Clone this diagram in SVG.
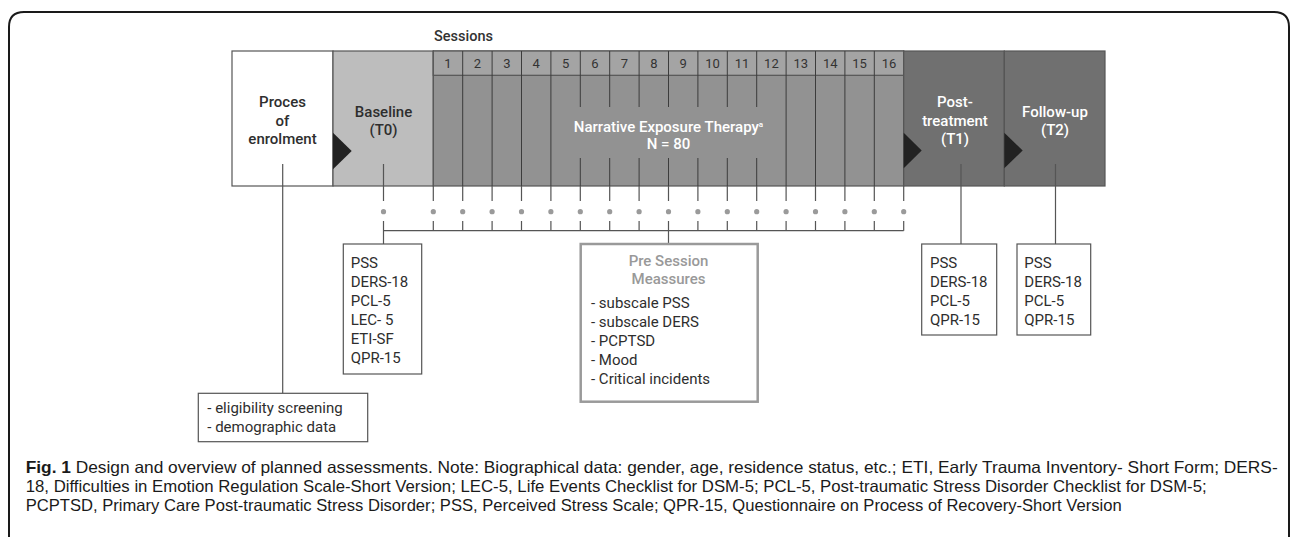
<svg xmlns="http://www.w3.org/2000/svg" width="1290" height="537" viewBox="0 0 1290 537">
<style>
.lbl{font-family:Roboto,"Liberation Sans",sans-serif;font-weight:500;font-size:15px;text-anchor:middle}
.wt{fill:#ffffff}
.dk{fill:#2e2e2e}
.num{font-family:Roboto,"Liberation Sans",sans-serif;font-size:13px;fill:#333;text-anchor:middle}
.lst{font-family:Roboto,"Liberation Sans",sans-serif;font-size:15px;fill:#2e2e2e}
.box{fill:#ffffff;stroke:#555;stroke-width:1.2}
.col{stroke:#3c3c3c;stroke-width:1}
.con{stroke:#555;stroke-width:1.2;fill:none}
.dot{fill:#9a9a9a}
.tri{fill:#222}
.cap{font-family:"Liberation Sans",Arial,sans-serif;font-size:16.5px;fill:#1a1a1a}
</style>
<path d="M9,537 V27 Q9,12 24,12 H1274 Q1289,12 1289,27 V537" fill="none" stroke="#1a1a1a" stroke-width="2"/>

<g id="enrolment">
<rect x="232" y="51" width="101" height="135" fill="#ffffff" stroke="#555" stroke-width="1.2"/>
<text class="lbl dk" x="282.5" y="107">Proces</text>
<text class="lbl dk" x="282.5" y="125.5">of</text>
<text class="lbl dk" x="282.5" y="144">enrolment</text>
</g>

<g id="baseline">
<rect x="333" y="51" width="100.3" height="135" fill="#bdbdbd" stroke="#555" stroke-width="1.2"/>
<polygon class="tri" points="333,132.7 351.7,151 333,169.3"/>
<text class="lbl dk" x="383.5" y="116.7">Baseline</text>
<text class="lbl dk" x="383.5" y="134.5">(T0)</text>
</g>

<g id="net">
<text x="434" y="41" font-family="Roboto,'Liberation Sans',sans-serif" font-weight="500" font-size="14.5" fill="#333">Sessions</text>
<rect x="433.3" y="51" width="470.4" height="135" fill="#929292" stroke="#555" stroke-width="1.2"/>
<rect x="433.3" y="51" width="470.4" height="24.3" fill="#a4a4a4" stroke="#555" stroke-width="1.2"/>
<g class="col">
<line x1="462.7" y1="51" x2="462.7" y2="186"/>
<line x1="492.1" y1="51" x2="492.1" y2="186"/>
<line x1="521.5" y1="51" x2="521.5" y2="186"/>
<line x1="550.9" y1="51" x2="550.9" y2="186"/>
<path d="M580.3,51 V107 M580.3,158 V186 M609.7,51 V107 M609.7,158 V186 M639.1,51 V107 M639.1,158 V186 M668.5,51 V107 M668.5,158 V186 M697.9,51 V107 M697.9,158 V186 M727.3,51 V107 M727.3,158 V186 M756.7,51 V107 M756.7,158 V186"/>
<line x1="786.1" y1="51" x2="786.1" y2="186"/>
<line x1="815.5" y1="51" x2="815.5" y2="186"/>
<line x1="844.9" y1="51" x2="844.9" y2="186"/>
<line x1="874.3" y1="51" x2="874.3" y2="186"/>
</g>
<text class="num" x="448" y="68.3">1</text>
<text class="num" x="477.4" y="68.3">2</text>
<text class="num" x="506.8" y="68.3">3</text>
<text class="num" x="536.2" y="68.3">4</text>
<text class="num" x="565.6" y="68.3">5</text>
<text class="num" x="595" y="68.3">6</text>
<text class="num" x="624.4" y="68.3">7</text>
<text class="num" x="653.8" y="68.3">8</text>
<text class="num" x="683.2" y="68.3">9</text>
<text class="num" x="712.6" y="68.3">10</text>
<text class="num" x="742" y="68.3">11</text>
<text class="num" x="771.4" y="68.3">12</text>
<text class="num" x="800.8" y="68.3">13</text>
<text class="num" x="830.2" y="68.3">14</text>
<text class="num" x="859.6" y="68.3">15</text>
<text class="num" x="889" y="68.3">16</text>
<text class="lbl wt" x="668.5" y="131.5">Narrative Exposure Therapy<tspan font-size="8" dy="-5">a</tspan></text>
<text class="lbl wt" x="668.5" y="149">N = 80</text>
</g>

<g id="post">
<rect x="903.7" y="51" width="100.6" height="135" fill="#707070" stroke="#555" stroke-width="1.2"/>
<polygon class="tri" points="903.7,132.7 921.7,150.5 903.7,168.3"/>
<text class="lbl wt" x="955" y="107.3">Post-</text>
<text class="lbl wt" x="955" y="126">treatment</text>
<text class="lbl wt" x="955" y="144">(T1)</text>
</g>

<g id="followup">
<rect x="1004.3" y="51" width="100.7" height="135" fill="#707070" stroke="#555" stroke-width="1.2"/>
<polygon class="tri" points="1004.3,132.7 1022.7,150.5 1004.3,168.3"/>
<text class="lbl wt" x="1055" y="116.7">Follow-up</text>
<text class="lbl wt" x="1055" y="134.5">(T2)</text>
</g>

<g id="connectors">
<path class="con" d="M282.7,164 V393.3 M383.5,164 V201 M383.5,221 V244 M383.5,230.7 H903.7 M668.5,230.7 V244 M961,164 V244 M1055.5,164 V244"/>
<path class="con" d="M433.3,186 V201 M433.3,221 V230.7 M462.7,186 V201 M462.7,221 V230.7 M492.1,186 V201 M492.1,221 V230.7 M521.5,186 V201 M521.5,221 V230.7 M550.9,186 V201 M550.9,221 V230.7 M580.3,186 V201 M580.3,221 V230.7 M609.7,186 V201 M609.7,221 V230.7 M639.1,186 V201 M639.1,221 V230.7 M668.5,186 V201 M668.5,221 V230.7 M697.9,186 V201 M697.9,221 V230.7 M727.3,186 V201 M727.3,221 V230.7 M756.7,186 V201 M756.7,221 V230.7 M786.1,186 V201 M786.1,221 V230.7 M815.5,186 V201 M815.5,221 V230.7 M844.9,186 V201 M844.9,221 V230.7 M874.3,186 V201 M874.3,221 V230.7 M903.7,186 V201 M903.7,221 V230.7"/>
<g class="dot">
<circle cx="383.5" cy="211.7" r="2.6"/>
<circle cx="433.3" cy="211.7" r="2.6"/>
<circle cx="462.7" cy="211.7" r="2.6"/>
<circle cx="492.1" cy="211.7" r="2.6"/>
<circle cx="521.5" cy="211.7" r="2.6"/>
<circle cx="550.9" cy="211.7" r="2.6"/>
<circle cx="580.3" cy="211.7" r="2.6"/>
<circle cx="609.7" cy="211.7" r="2.6"/>
<circle cx="639.1" cy="211.7" r="2.6"/>
<circle cx="668.5" cy="211.7" r="2.6"/>
<circle cx="697.9" cy="211.7" r="2.6"/>
<circle cx="727.3" cy="211.7" r="2.6"/>
<circle cx="756.7" cy="211.7" r="2.6"/>
<circle cx="786.1" cy="211.7" r="2.6"/>
<circle cx="815.5" cy="211.7" r="2.6"/>
<circle cx="844.9" cy="211.7" r="2.6"/>
<circle cx="874.3" cy="211.7" r="2.6"/>
<circle cx="903.7" cy="211.7" r="2.6"/>
</g>
</g>

<g id="box-baseline">
<rect class="box" x="343.3" y="244" width="78.4" height="130"/>
<text class="lst" x="350.7" y="268.3">PSS</text>
<text class="lst" x="350.7" y="287.2">DERS-18</text>
<text class="lst" x="350.7" y="306.1">PCL-5</text>
<text class="lst" x="350.7" y="325">LEC- 5</text>
<text class="lst" x="350.7" y="343.9">ETI-SF</text>
<text class="lst" x="350.7" y="362.8">QPR-15</text>
</g>

<g id="box-presession">
<rect x="580.7" y="244" width="177" height="157.7" fill="#ffffff" stroke="#9a9a9a" stroke-width="2.5"/>
<text class="lbl" x="668.5" y="266" fill="#999999">Pre Session</text>
<text class="lbl" x="668.5" y="284" fill="#999999">Meassures</text>
<text class="lst" x="591" y="308.3">- subscale PSS</text>
<text class="lst" x="591" y="327.3">- subscale DERS</text>
<text class="lst" x="591" y="346">- PCPTSD</text>
<text class="lst" x="591" y="365">- Mood</text>
<text class="lst" x="591" y="384">- Critical incidents</text>
</g>

<g id="box-post">
<rect class="box" x="921.7" y="244" width="75" height="91"/>
<text class="lst" x="930" y="268.3">PSS</text>
<text class="lst" x="930" y="287.2">DERS-18</text>
<text class="lst" x="930" y="306.1">PCL-5</text>
<text class="lst" x="930" y="325">QPR-15</text>
</g>

<g id="box-followup">
<rect class="box" x="1017" y="244" width="73.7" height="91"/>
<text class="lst" x="1024.3" y="268.3">PSS</text>
<text class="lst" x="1024.3" y="287.2">DERS-18</text>
<text class="lst" x="1024.3" y="306.1">PCL-5</text>
<text class="lst" x="1024.3" y="325">QPR-15</text>
</g>

<g id="box-eligibility">
<rect class="box" x="198.3" y="393.3" width="169.4" height="48.4"/>
<text class="lst" x="207.3" y="413.3">- eligibility screening</text>
<text class="lst" x="207.3" y="431.7">- demographic data</text>
</g>

<g id="caption">
<text class="cap" x="25.7" y="473" textLength="1252" lengthAdjust="spacingAndGlyphs"><tspan font-weight="bold">Fig. 1</tspan> Design and overview of planned assessments. Note: Biographical data: gender, age, residence status, etc.; ETI, Early Trauma Inventory- Short Form; DERS-</text>
<text class="cap" x="25.7" y="492" textLength="1181" lengthAdjust="spacingAndGlyphs">18, Difficulties in Emotion Regulation Scale-Short Version; LEC-5, Life Events Checklist for DSM-5; PCL-5, Post-traumatic Stress Disorder Checklist for DSM-5;</text>
<text class="cap" x="25.7" y="511" textLength="1096" lengthAdjust="spacingAndGlyphs">PCPTSD, Primary Care Post-traumatic Stress Disorder; PSS, Perceived Stress Scale; QPR-15, Questionnaire on Process of Recovery-Short Version</text>
</g>
</svg>
